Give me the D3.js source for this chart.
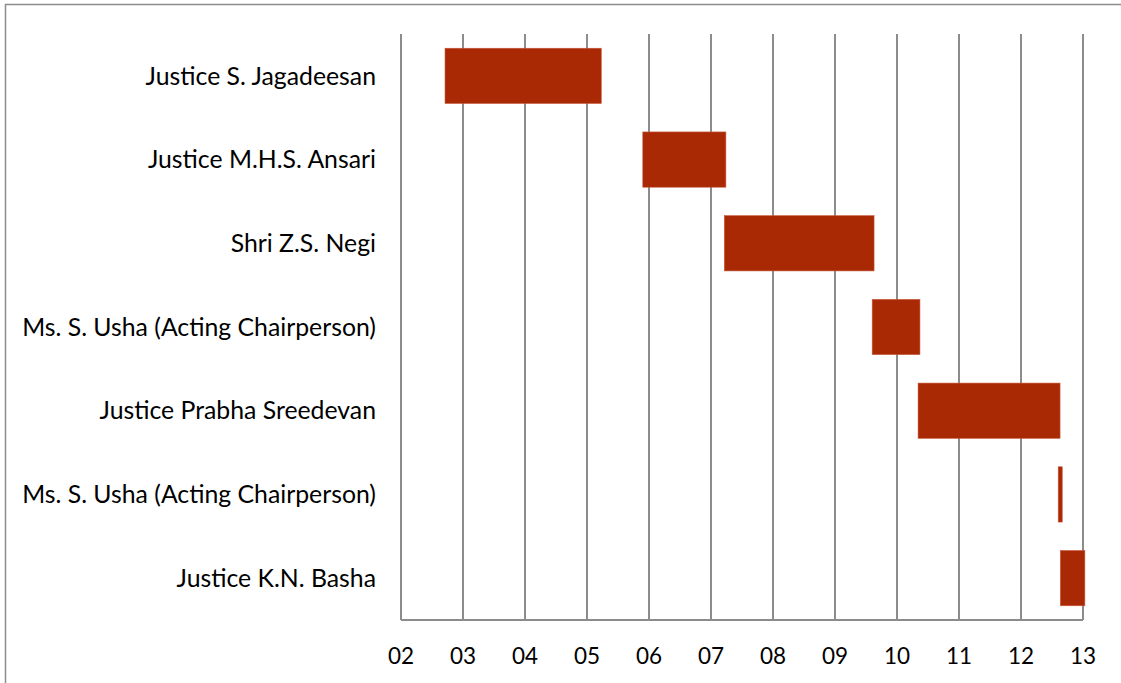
<!DOCTYPE html>
<html lang="en">
<head>
    <meta charset="utf-8">
    <title>Chairpersons timeline</title>
    <script src="https://d3js.org/d3.v7.min.js"></script>
    <style>
        body { margin: 0; background: #fff; }
        text { font-family: Lato, "Open Sans", sans-serif; fill: #000; }
    </style>
</head>
<body>
    <script>
        // Names in order, top to bottom
        var names = [
            "Justice S. Jagadeesan",
            "Justice M.H.S. Ansari",
            "Shri Z.S. Negi",
            "Ms. S. Usha (Acting Chairperson)",
            "Justice Prabha Sreedevan",
            "Ms. S. Usha (Acting Chairperson)",
            "Justice K.N. Basha"
        ];
        // Term start / end, in years (2002 = 2)
        var starts = [2.71, 5.90, 7.215, 9.60, 10.34, 12.60, 12.635];
        var ends   = [5.23, 7.24, 9.63, 10.37, 12.63, 12.665, 13.03];
        var years = [2, 3, 4, 5, 6, 7, 8, 9, 10, 11, 12, 13];

        var width = 1121;
        var height = 683;
        var margin = { top: 34, right: 38, bottom: 63, left: 401 };

        var svg = d3.select("body")
            .append("svg")
            .attr("width", width)
            .attr("height", height);

        // outer frame (top and left edges visible)
        svg.append("path")
            .attr("d", "M5.5," + height + "V4.5H" + width)
            .attr("fill", "none")
            .attr("stroke", "#8c8c8c")
            .attr("stroke-width", 1.5);

        var x = d3.scaleLinear()
            .domain([2, 13])
            .range([margin.left, width - margin.right]);

        var y = d3.scaleBand()
            .domain(d3.range(names.length))
            .range([margin.top, height - margin.bottom])
            .paddingInner(0.34)
            .paddingOuter(0.17);

        var g = svg.append("g");

        // vertical gridlines
        g.selectAll("line.grid")
            .data(years)
            .enter()
            .append("line")
            .attr("class", "grid")
            .attr("x1", function(d) { return x(d); })
            .attr("x2", function(d) { return x(d); })
            .attr("y1", margin.top)
            .attr("y2", height - margin.bottom)
            .attr("stroke", "#8c8c8c")
            .attr("stroke-width", 2);

        // bottom axis line
        g.append("line")
            .attr("x1", x(2))
            .attr("x2", x(13))
            .attr("y1", height - margin.bottom)
            .attr("y2", height - margin.bottom)
            .attr("stroke", "#8c8c8c")
            .attr("stroke-width", 2);

        // bars
        g.selectAll("rect.bar")
            .data(names)
            .enter()
            .append("rect")
            .attr("class", "bar")
            .attr("x", function(d, i) { return x(starts[i]); })
            .attr("width", function(d, i) { return x(ends[i]) - x(starts[i]); })
            .attr("y", function(d, i) { return y(i); })
            .attr("height", y.bandwidth())
            .attr("fill", "#a82903")
            .attr("stroke", "#c8573a")
            .attr("stroke-width", 0.6);

        // category labels
        g.selectAll("text.name")
            .data(names)
            .enter()
            .append("text")
            .attr("class", "name")
            .attr("x", margin.left - 25)
            .attr("y", function(d, i) { return y(i) + y.bandwidth() / 2; })
            .attr("dy", "0.35em")
            .attr("text-anchor", "end")
            .style("font-size", "24.8px")
            .text(function(d) { return d; });

        // year tick labels
        g.selectAll("text.tick")
            .data(years)
            .enter()
            .append("text")
            .attr("class", "tick")
            .attr("x", function(d) { return x(d); })
            .attr("y", 664)
            .attr("text-anchor", "middle")
            .style("font-size", "22.5px")
            .text(function(d) { return d3.format("02")(d); });
    </script>
</body>
</html>
